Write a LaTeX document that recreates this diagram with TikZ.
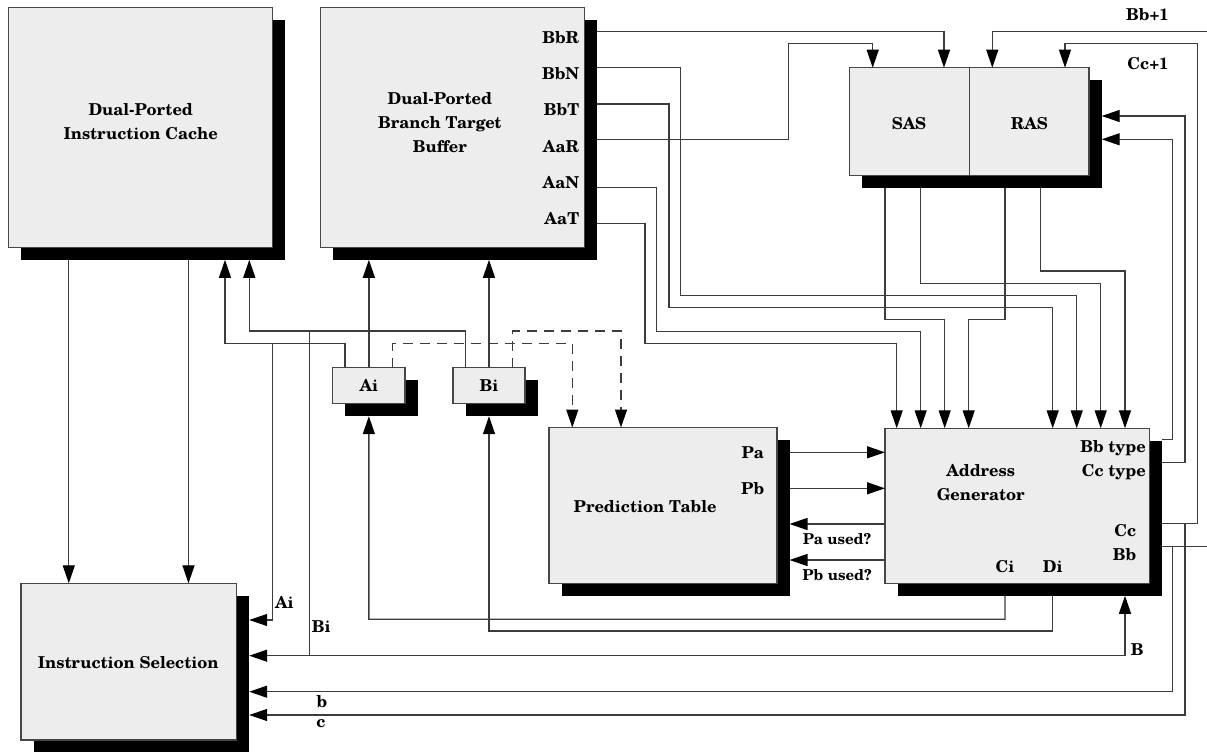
\documentclass[tikz,border=0pt]{standalone}
\usepackage{fontspec}
\setmainfont{TeX Gyre Schola}
\usetikzlibrary{arrows.meta}
\definecolor{boxfill}{RGB}{237,237,237}
\definecolor{boxline}{RGB}{70,70,70}
\definecolor{wirecol}{RGB}{60,60,60}
\newcommand{\mainfnt}{\fontsize{16.4}{24}\selectfont\bfseries}
\newcommand{\smallfnt}{\fontsize{15}{17}\selectfont\bfseries}
\newcommand{\dblock}[5]{%
  \node[shadowbox, minimum width=#4pt, minimum height=#5pt] (#1S) at (#2+12.5,#3+12.5) {};
  \node[blockbox, minimum width=#4pt, minimum height=#5pt] (#1) at (#2,#3) {};}
\tikzset{
  blockbox/.style={draw=boxline, fill=boxfill, line width=1.2pt, inner sep=0pt, outer sep=0pt, anchor=north west},
  shadowbox/.style={fill=black, inner sep=0pt, outer sep=0pt, anchor=north west},
  wire/.style={draw=wirecol, line width=1.3pt},
  tipA/.tip={Triangle[length=18pt,width=12pt,color=black]},
  arr/.style={wire, -tipA},
  arrtwo/.style={wire, tipA-tipA},
  dsh/.style={dash pattern=on 10pt off 7pt},
  lbl/.style={font=\mainfnt, inner sep=0pt, text height=11.5pt, text depth=0pt},
  slbl/.style={font=\smallfnt, inner sep=0pt, text height=10.5pt, text depth=0pt},
  mlbl/.style={font=\mainfnt, inner sep=0pt, align=center},
}
\begin{document}
\begin{tikzpicture}[x=1pt,y=-1pt]
\useasboundingbox (0,0) rectangle (1207,752);
% blocks
\dblock{ic}{8.4}{7.3}{264.3}{240}
\dblock{btb}{320.5}{7.3}{264.2}{240}
\node[shadowbox, minimum width=240pt, minimum height=108pt] (stS) at (861.7,80.2) {};
\node[blockbox, minimum width=120pt, minimum height=108pt] (sas) at (849.3,67.7) {};
\node[blockbox, minimum width=119.7pt, minimum height=108pt] (ras) at (969.3,67.7) {};
\dblock{ai}{332.7}{367.7}{72.3}{36}
\dblock{bi}{453}{367.7}{72}{36}
\dblock{pt}{549}{427.5}{228}{155.8}
\dblock{ag}{885}{428.3}{264.3}{155}
\dblock{is}{21}{583.3}{215.7}{156.7}
% texts in blocks
\node[mlbl] (icT) at (140.7,122) {Dual-Ported\\Instruction Cache};
\node[mlbl] (btbT) at (439.8,122.7) {Dual-Ported\\Branch Target\\Buffer};
\node[lbl, anchor=east] (pBbR) at (579.3,38) {BbR};
\node[lbl, anchor=east] (pBbN) at (579.3,74) {BbN};
\node[lbl, anchor=east] (pBbT) at (579.3,110) {BbT};
\node[lbl, anchor=east] (pAaR) at (579.3,146.5) {AaR};
\node[lbl, anchor=east] (pAaN) at (579.3,182.5) {AaN};
\node[lbl, anchor=east] (pAaT) at (579.3,218.5) {AaT};
\node[lbl] (sasT) at (909,123.3) {SAS};
\node[lbl] (rasT) at (1029.3,123.3) {RAS};
\node[lbl] (aiT) at (368.85,385.7) {Ai};
\node[lbl] (biT) at (489,385.7) {Bi};
\node[lbl] (ptT) at (645,506.7) {Prediction Table};
\node[lbl] (pPa) at (752.7,452.3) {Pa};
\node[lbl] (pPb) at (752.7,488.3) {Pb};
\node[mlbl] (agT) at (980.7,483) {Address\\Generator};
\node[lbl, anchor=east] (pBbtype) at (1146,446.7) {Bb type};
\node[lbl, anchor=east] (pCctype) at (1146,471) {Cc type};
\node[lbl, anchor=east] (pCc) at (1136.5,531) {Cc};
\node[lbl, anchor=east] (pBb) at (1136.5,555) {Bb};
\node[lbl] (pCi) at (1005,566.7) {Ci};
\node[lbl] (pDi) at (1052.7,566.7) {Di};
\node[lbl] (isT) at (128.3,662.7) {Instruction Selection};
% free ends
\coordinate (edgeBb) at (1207,546.7);
\coordinate (edgeBbOne) at (1207,31.7);
% ICache -> Instruction Selection
\draw[arr] (68.8,0 |- icS.south) -- (68.8,0 |- is.north);
\draw[arr] (188.5,0 |- icS.south) -- (188.5,0 |- is.north);
% Ai / Bi -> ICache, BTB, Instruction Selection
\draw[arr] (345,0 |- ai.north) -- (345,343.7) -- (225,343.7) -- (225,0 |- icS.south);
\draw[arr] (272.7,343.7) -- (272.7,620) -- (isS.east |- 0,620);
\draw[arr] (465.5,0 |- bi.north) -- (465.5,331) -- (249.3,331) -- (249.3,0 |- icS.south);
\draw[wire] (309.3,331) -- (309.3,655.7);
\draw[arr] (ai.north) -- (ai.north |- btbS.south);
\draw[arr] (bi.north) -- (bi.north |- btbS.south);
\draw[arr, dsh] (392.7,0 |- ai.north) -- (392.7,343.7) -- (572.3,343.7) -- (572.3,0 |- pt.north);
\draw[arr, dsh] (512.7,0 |- bi.north) -- (512.7,331) -- (621,331) -- (621,0 |- pt.north);
% BTB outputs
\draw[arr] (btbS.east |- 0,31.7) -- (944,31.7) -- (944,0 |- sas.north);
\draw[arr] (btbS.east |- 0,139.3) -- (788.7,139.3) -- (788.7,43.3) -- (872.7,43.3) -- (872.7,0 |- sas.north);
\draw[arr] (btbS.east |- 0,67.7) -- (680.7,67.7) -- (680.7,295.7) -- (1076.7,295.7) -- (1076.7,0 |- ag.north);
\draw[arr] (btbS.east |- 0,104) -- (669,104) -- (669,307.3) -- (1052.7,307.3) -- (1052.7,0 |- ag.north);
\draw[arr] (btbS.east |- 0,187.7) -- (656.7,187.7) -- (656.7,331.7) -- (920.7,331.7) -- (920.7,0 |- ag.north);
\draw[arr] (btbS.east |- 0,223.3) -- (645,223.3) -- (645,343.5) -- (896.7,343.5) -- (896.7,0 |- ag.north);
% SAS / RAS outputs
\draw[arr] (885,0 |- stS.south) -- (885,319.3) -- (944.7,319.3) -- (944.7,0 |- ag.north);
\draw[arr] (920.7,0 |- stS.south) -- (920.7,283.3) -- (1100.7,283.3) -- (1100.7,0 |- ag.north);
\draw[arr] (1005,0 |- stS.south) -- (1005,319.3) -- (968.7,319.3) -- (968.7,0 |- ag.north);
\draw[arr] (1040.6,0 |- stS.south) -- (1040.6,271) -- (1125,271) -- (1125,0 |- ag.north);
% Prediction table <-> Address generator
\draw[arr] (ptS.east |- 0,452.3) -- (ag.west |- 0,452.3);
\draw[arr] (ptS.east |- 0,488.3) -- (ag.west |- 0,488.3);
\draw[arr] (ag.west |- 0,524) -- (ptS.east |- 0,524);
\draw[arr] (ag.west |- 0,560) -- (ptS.east |- 0,560);
\node[slbl] (lPaU) at (837,539.5) {Pa used?};
\node[slbl] (lPbU) at (837,575.5) {Pb used?};
% Address generator right outputs
\draw[arr] (agS.east |- 0,439.3) -- (1172.7,439.3) -- (1172.7,139.3) -- (stS.east |- 0,139.3);
\draw[arr] (agS.east |- 0,462.7) -- (1185,462.7) -- (1185,116) -- (stS.east |- 0,116);
\draw[arr] (agS.east |- 0,523.3) -- (1197.3,523.3) -- (1197.3,43.3) -- (1065,43.3) -- (1065,0 |- ras.north);
\draw[arr] (1185,523.3) -- (1185,715) -- (isS.east |- 0,715);
\draw[wire] (agS.east |- 0,546.7) -- (edgeBb);
\draw[arr] (1172.7,546.7) -- (1172.7,691.7) -- (isS.east |- 0,691.7);
\draw[arr] (edgeBbOne) -- (992.3,31.7) -- (992.3,0 |- ras.north);
\node[lbl] (lBbOne) at (1147.5,15) {Bb+1};
\node[lbl] (lCcOne) at (1148,63.3) {Cc+1};
% Ci, Di back to Ai, Bi
\draw[arr] (1005,0 |- agS.south) -- (1005,619.3) -- (368.85,619.3) -- (ai.south |- aiS.south);
\draw[arr] (1052.7,0 |- agS.south) -- (1052.7,631) -- (489,631) -- (bi.south |- biS.south);
% B
\draw[arrtwo] (isS.east |- 0,655.7) -- (1125,655.7) -- (1125,0 |- agS.south);
% labels near Instruction Selection
\node[lbl, anchor=west] (lAi) at (275,602.7) {Ai};
\node[lbl, anchor=west] (lBi) at (311.7,626.7) {Bi};
\node[lbl] (lb) at (322,701.7) {b};
\node[lbl] (lc) at (321,721.5) {c};
\node[lbl, anchor=west] (lB) at (1130.7,650) {B};
\end{tikzpicture}
\end{document}
